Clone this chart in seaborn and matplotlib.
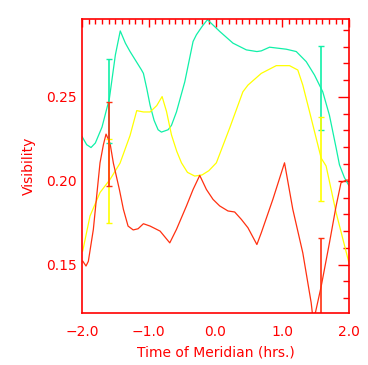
import numpy as np
import pandas as pd
import seaborn as sns
import matplotlib.pyplot as plt
from matplotlib.ticker import MultipleLocator

# curve values (hour angle, visibility)
cyan_x = [-2.0, -1.93, -1.865, -1.8, -1.7, -1.59, -1.5, -1.427, -1.35, -1.28, -1.108, -1.08,
          -1.03, -0.98, -0.92, -0.86, -0.81, -0.71, -0.66, -0.585, -0.46, -0.336, -0.286,
          -0.2, -0.121, 0.063, 0.262, 0.462, 0.62, 0.686, 0.81, 1.06, 1.21, 1.359, 1.483,
          1.607, 1.707, 1.807, 1.857, 1.93, 2.0]
cyan_y = [0.2264, 0.2215, 0.2198, 0.2225, 0.232, 0.249, 0.275, 0.2893, 0.282, 0.277, 0.266, 0.264,
          0.255, 0.245, 0.236, 0.2304, 0.229, 0.2304, 0.233, 0.241, 0.259, 0.283, 0.287,
          0.292, 0.296, 0.289, 0.282, 0.278, 0.277, 0.2774, 0.2796, 0.2784, 0.277, 0.271, 0.263,
          0.253, 0.239, 0.2196, 0.2095, 0.202, 0.197]

yellow_x = [-1.99, -1.88, -1.73, -1.58, -1.43, -1.28, -1.18, -1.08, -0.98, -0.88, -0.80,
            -0.734, -0.66, -0.58, -0.51, -0.42, -0.311, -0.2, -0.1, 0.013, 0.212, 0.41, 0.486,
            0.686, 0.91, 1.109, 1.233, 1.308, 1.408, 1.508, 1.583, 1.657, 1.807, 2.0]
yellow_y = [0.158, 0.179, 0.193, 0.2008, 0.2105, 0.227, 0.2418, 0.241, 0.241, 0.2448, 0.2502,
            0.2413, 0.2274, 0.2175, 0.2107, 0.205, 0.2028, 0.2035, 0.206, 0.2107, 0.2314, 0.253,
            0.257, 0.264, 0.2686, 0.2686, 0.266, 0.257, 0.2413, 0.2254, 0.2135, 0.2088, 0.181,
            0.151]

red_x = [-1.99, -1.94, -1.905, -1.83, -1.78, -1.73, -1.68, -1.64, -1.58, -1.53, -1.44, -1.38,
         -1.31, -1.233, -1.16, -1.08, -0.98, -0.83, -0.685, -0.585, -0.435, -0.336, -0.236,
         -0.136, -0.037, 0.063, 0.187, 0.287, 0.387, 0.486, 0.62, 0.686, 0.86, 1.034, 1.158,
         1.308, 1.433, 1.46, 1.5, 1.583, 1.707, 1.807, 1.88, 1.957, 2.0]
red_y = [0.1522, 0.1492, 0.152, 0.171, 0.191, 0.2107, 0.2214, 0.2278, 0.2224, 0.2105, 0.1948,
         0.183, 0.173, 0.1707, 0.1714, 0.1744, 0.173, 0.170, 0.163, 0.171, 0.185, 0.1948, 0.2032,
         0.1948, 0.1889, 0.185, 0.182, 0.1814, 0.177, 0.172, 0.162, 0.169, 0.189, 0.2107, 0.183,
         0.157, 0.1274, 0.118, 0.122, 0.137, 0.163, 0.185, 0.1988, 0.2004, 0.2004]

# error bars
err_x = [-1.59, 1.583]
cyan_err_y = [0.2476, 0.2554]
yellow_err_y = [0.2000, 0.2129]
red_err_y = [0.2218, 0.1411]
err_size = [0.025, 0.025]

RED = '#ff0000'
C_CYAN = '#10f0a8'
C_YELLOW = '#ffff00'
C_RED = '#ff3010'

sns.set_style('white')
plt.rcParams['font.family'] = ['DejaVu Sans']

fig = plt.figure(figsize=(3.68, 3.65), dpi=100)
ax = fig.add_axes([82 / 368, 52 / 365, 267 / 368, 294 / 365])

curves = [(cyan_x, cyan_y, C_CYAN), (yellow_x, yellow_y, C_YELLOW), (red_x, red_y, C_RED)]
for xs, ys, col in curves:
    df = pd.DataFrame({'t': xs, 'v': ys})
    sns.lineplot(data=df, x='t', y='v', color=col, lw=0.9, ax=ax, sort=False)

for ys, col in [(cyan_err_y, C_CYAN), (yellow_err_y, C_YELLOW), (red_err_y, C_RED)]:
    ax.errorbar(err_x, ys, yerr=err_size, fmt='none', ecolor=col, elinewidth=1.2,
                capsize=2.5, capthick=1.0)

ax.set_xlim(-2.0, 2.0)
ax.set_ylim(0.1212, 0.2964)
ax.xaxis.set_major_locator(MultipleLocator(1.0))
ax.xaxis.set_minor_locator(MultipleLocator(0.1))
ax.yaxis.set_major_locator(MultipleLocator(0.05))
ax.yaxis.set_minor_locator(MultipleLocator(0.01))
ax.set_xticks([-2, -1, 0, 1, 2])
ax.set_xticklabels(['\u22122.0', '\u22121.0', '0.0', '1.0', '2.0'])
ax.set_yticks([0.15, 0.20, 0.25])
ax.set_yticklabels(['0.15', '0.20', '0.25'])

ax.tick_params(which='both', direction='in', colors=RED, top=True, right=True,
               labelsize=10, width=1.0)
ax.tick_params(axis='x', which='major', length=6, pad=9)
ax.tick_params(axis='x', which='minor', length=3.5)
ax.tick_params(axis='y', which='major', length=8, pad=4)
ax.tick_params(axis='y', which='minor', length=4)
for s in ax.spines.values():
    s.set_color(RED)
    s.set_linewidth(1.2)

ax.set_xlabel('Time of Meridian (hrs.)', color=RED, fontsize=10, labelpad=4)
ax.set_ylabel('Visibility', color=RED, fontsize=10, labelpad=7)

fig.savefig('out.png', dpi=100, facecolor='white')
